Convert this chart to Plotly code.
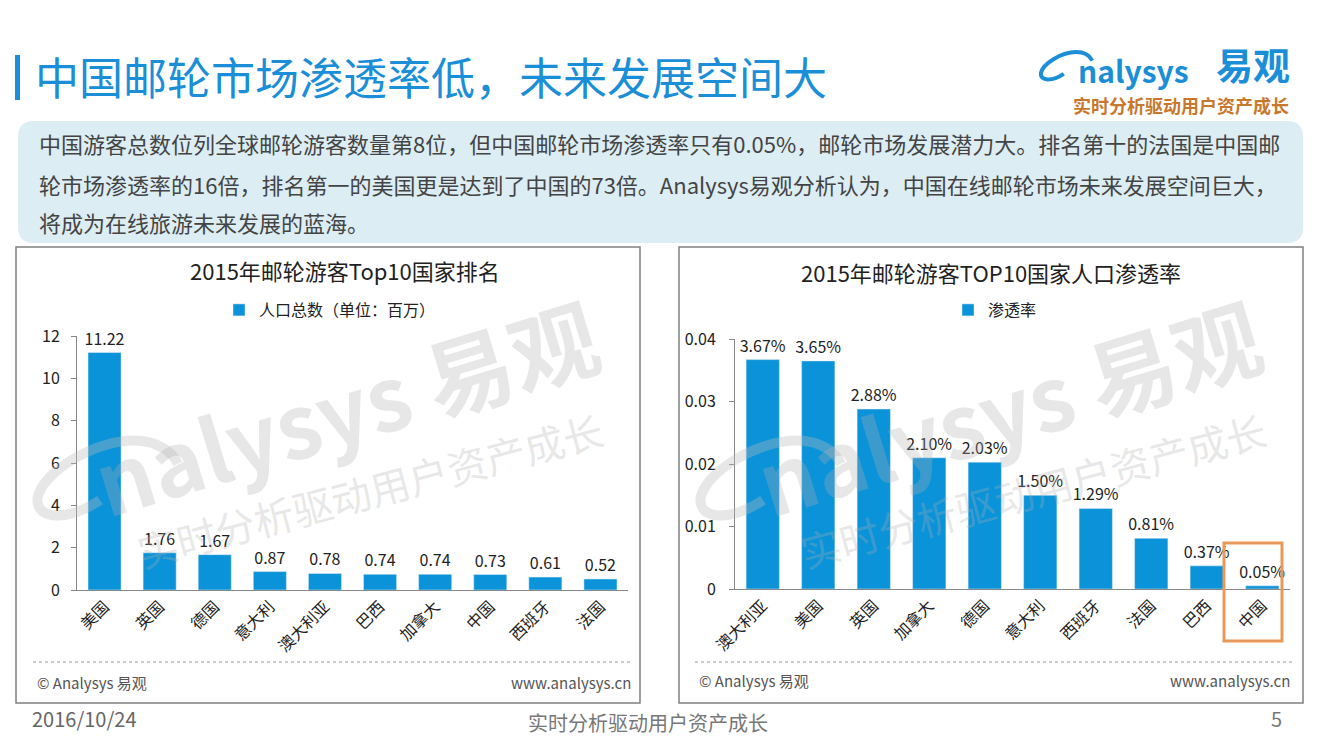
import plotly.graph_objects as go

W, H = 1320, 743
FONT = "Noto Sans CJK SC"
BLUE = "#0b93d9"

# ---- data ----
rank_countries = ["美国", "英国", "德国", "意大利", "澳大利亚", "巴西", "加拿大", "中国", "西班牙", "法国"]
rank_values = [11.22, 1.76, 1.67, 0.87, 0.78, 0.74, 0.74, 0.73, 0.61, 0.52]

rate_countries = ["澳大利亚", "美国", "英国", "加拿大", "德国", "意大利", "西班牙", "法国", "巴西", "中国"]
rate_values = [0.0367, 0.0365, 0.0288, 0.0210, 0.0203, 0.0150, 0.0129, 0.0081, 0.0037, 0.0005]

page_title = "中国邮轮市场渗透率低，未来发展空间大"
summary_lines = [
    "中国游客总数位列全球邮轮游客数量第8位，但中国邮轮市场渗透率只有0.05%，邮轮市场发展潜力大。排名第十的法国是中国邮",
    "轮市场渗透率的16倍，排名第一的美国更是达到了中国的73倍。Analysys易观分析认为，中国在线邮轮市场未来发展空间巨大，",
    "将成为在线旅游未来发展的蓝海。",
]
slogan = "实时分析驱动用户资产成长"


def px(x):
    return x / W


def py(y):
    return 1 - y / H


def path_of(cmds):
    # cmds: list of (letter, [x, y, x, y ...]) in pixels -> paper path string
    out = []
    for c, pts in cmds:
        coords = []
        for i in range(0, len(pts), 2):
            coords.append(f"{px(pts[i]):.5f},{py(pts[i + 1]):.5f}")
        out.append(c + " " + " ".join(coords))
    return " ".join(out)


def swoosh(x0, y0, s):
    # logo "a" stroke, x0/y0 = left end of the oval
    p = lambda dx, dy: [x0 + dx * s, y0 + dy * s]
    return path_of([
        ("M", p(25, 2)),
        ("C", p(13, 10) + p(0, 10) + p(1, 1)),
        ("C", p(3, -9) + p(23, -21) + p(38, -21)),
        ("C", p(48, -21) + p(53, -16) + p(55, -12)),
    ])


fig = go.Figure()

fig.add_trace(go.Bar(
    x=rank_countries, y=rank_values, name="人口总数（单位：百万）",
    marker_color=BLUE, texttemplate="%{y:.2f}",
    textposition="outside", cliponaxis=False, constraintext="none",
    textfont=dict(size=16, color="#222"),
    xaxis="x", yaxis="y", legend="legend",
))
fig.add_trace(go.Bar(
    x=rate_countries, y=rate_values, name="渗透率",
    marker_color=BLUE, texttemplate="%{y:.2%}",
    textposition="outside", cliponaxis=False, constraintext="none",
    textfont=dict(size=16, color="#222"),
    xaxis="x2", yaxis="y2", legend="legend2",
))

axis_common = dict(showgrid=False, zeroline=False, showline=True, linecolor="#888", linewidth=1,
                   automargin=False, tickfont=dict(size=16, color="#222", family=FONT))
cat_font = dict(size=16, color="#222", family=FONT)

shapes = [
    # title bar
    dict(type="rect", xref="paper", yref="paper", x0=px(15), x1=px(20), y0=py(100), y1=py(55),
         fillcolor="#1a8fd8", line_width=0),
    # summary box
    dict(type="path", xref="paper", yref="paper", fillcolor="#dcedf4", line_width=0,
         path=path_of([("M", [34, 121]), ("L", [1287, 121]), ("Q", [1303, 121, 1303, 137]),
                       ("L", [1303, 227]), ("Q", [1303, 243, 1287, 243]), ("L", [34, 243]),
                       ("Q", [18, 243, 18, 227]), ("L", [18, 137]), ("Q", [18, 121, 34, 121]),
                       ("Z", [])])),
    # panels
    dict(type="rect", xref="paper", yref="paper", x0=px(16), x1=px(640), y0=py(703), y1=py(247),
         line=dict(color="#808080", width=1.5)),
    dict(type="rect", xref="paper", yref="paper", x0=px(679), x1=px(1303), y0=py(703), y1=py(247),
         line=dict(color="#808080", width=1.5)),
    # dotted separators
    dict(type="line", xref="paper", yref="paper", x0=px(33), x1=px(630), y0=py(662), y1=py(662),
         line=dict(color="#999", width=1, dash="dot")),
    dict(type="line", xref="paper", yref="paper", x0=px(695), x1=px(1292), y0=py(662), y1=py(662),
         line=dict(color="#999", width=1, dash="dot")),
    # highlight China
    dict(type="rect", xref="paper", yref="paper", x0=px(1224), x1=px(1282), y0=py(641), y1=py(543),
         line=dict(color="#e8995a", width=3)),
    # logo swoosh
    dict(type="path", xref="paper", yref="paper", path=swoosh(1040, 72, 0.95),
         line=dict(color="#1a8fd8", width=4)),
    # watermark swooshes
    dict(type="path", xref="paper", yref="paper", path=swoosh(35, 495, 2.6),
         line=dict(color="rgba(185,185,185,0.35)", width=10)),
    dict(type="path", xref="paper", yref="paper", path=swoosh(698, 495, 2.6),
         line=dict(color="rgba(185,185,185,0.35)", width=10)),
]


def txt(x, y, text, size, color="#222", xanchor="center", angle=0, family=FONT):
    return dict(x=px(x), y=py(y), xref="paper", yref="paper", text=text, showarrow=False,
                xanchor=xanchor, yanchor="middle", textangle=angle,
                font=dict(size=size, color=color, family=family))


WM = "rgba(175,175,175,0.3)"
annotations = [
    txt(33, 76, page_title, 44, "#1a8fd8", "left"),
    txt(1076, 70, "<b>nalysys</b>", 30, "#1a8fd8", "left"),
    txt(1292, 64, "<b>易观</b>", 37, "#1a8fd8", "right"),
    txt(1291, 105, "<b>" + slogan + "</b>", 18, "#c8782c", "right"),
    txt(345, 270, "2015年邮轮游客Top10国家排名", 22),
    txt(991, 272, "2015年邮轮游客TOP10国家人口渗透率", 22),
    txt(35, 682, "© Analysys 易观", 15, "#555", "left"),
    txt(633, 682, "www.analysys.cn", 15, "#555", "right"),
    txt(697, 680, "© Analysys 易观", 15, "#555", "left"),
    txt(1292, 680, "www.analysys.cn", 15, "#555", "right"),
    txt(30, 718, "2016/10/24", 20, "#666", "left"),
    txt(648, 722, slogan, 20, "#777"),
    txt(1284, 718, "5", 20, "#777", "right"),
    # watermarks
    txt(345, 405, "<b>nalysys 易观</b>", 88, WM, angle=-17),
    txt(370, 490, slogan, 40, WM, angle=-15),
    txt(1008, 405, "<b>nalysys 易观</b>", 88, WM, angle=-17),
    txt(1033, 490, slogan, 40, WM, angle=-15),
]
for line, yy in zip(summary_lines, [143, 184, 222]):
    annotations.append(txt(37, yy, line, 22, "#444", "left"))

fig.update_layout(
    width=W, height=H, margin=dict(l=0, r=0, t=0, b=0, autoexpand=False),
    paper_bgcolor="white", plot_bgcolor="rgba(0,0,0,0)",
    font=dict(family=FONT, color="#222"),
    bargap=0.4,
    xaxis=dict(domain=[px(77), px(628)], anchor="y", ticks="", tickangle=-45,
               **{**axis_common, "tickfont": cat_font}),
    yaxis=dict(domain=[py(590), py(336)], anchor="x", range=[0, 12], dtick=2,
               ticks="outside", ticklen=5, tickcolor="#888", ticklabelstandoff=8, **axis_common),
    xaxis2=dict(domain=[px(735), px(1290)], anchor="y2", ticks="", tickangle=-45,
                **{**axis_common, "tickfont": cat_font}),
    yaxis2=dict(domain=[py(589), py(339)], anchor="x2", range=[0, 0.04], dtick=0.01,
                ticks="outside", ticklen=5, tickcolor="#888", ticklabelstandoff=10, **axis_common),
    legend=dict(x=px(330), y=py(310), xanchor="center", yanchor="middle", itemwidth=30,
                bgcolor="rgba(0,0,0,0)", font=dict(size=16, color="#222", family=FONT)),
    legend2=dict(x=px(995), y=py(310), xanchor="center", yanchor="middle", itemwidth=30,
                 bgcolor="rgba(0,0,0,0)", font=dict(size=16, color="#222", family=FONT)),
    showlegend=True,
    shapes=shapes,
    annotations=annotations,
)

# page body has a default 8px margin; remove it so the figure sits at the window origin
fig.write_html("out.html", config={"displayModeBar": False},
               post_script="document.body.style.margin='0';")
